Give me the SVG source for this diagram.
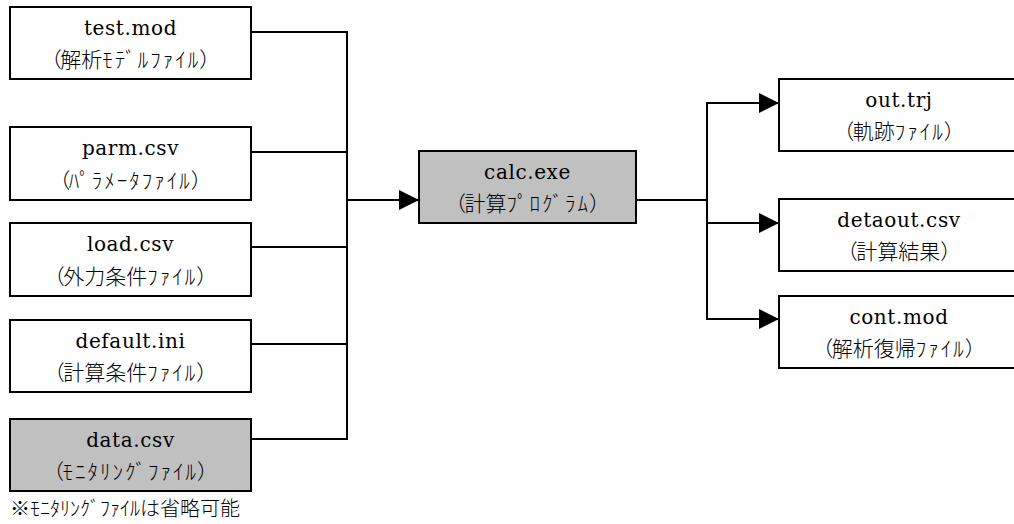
<svg xmlns="http://www.w3.org/2000/svg" width="1014" height="524" viewBox="0 0 1014 524">
<style>
.box{fill:#fff;stroke:#000;stroke-width:2}
.gray{fill:#c0c0c0}
.t1{font-family:"DejaVu Serif","Liberation Serif",serif;font-size:20px;letter-spacing:0.6px;text-anchor:middle;fill:#000}
.t2{font-family:"Noto Sans CJK JP","Noto Sans CJK SC",sans-serif;font-size:21px;font-weight:300;text-anchor:middle;fill:#000}
.k{letter-spacing:2px}
.o{letter-spacing:-1.5px}
.note{font-family:"Noto Sans CJK JP","Noto Sans CJK SC",sans-serif;font-size:20px;font-weight:300;fill:#000}
.line{fill:none;stroke:#000;stroke-width:2}
</style>
<defs>
<marker id="arr" markerWidth="20" markerHeight="20" refX="20" refY="10" orient="auto" markerUnits="userSpaceOnUse" viewBox="0 0 20 20">
<path d="M0,0 L20,10 L0,20 Z" fill="#000"/>
</marker>
</defs>
<g id="connectors">
<polyline class="line" points="251,32 347,32 347,439 251,439"/>
<line class="line" x1="251" y1="152" x2="347" y2="152"/>
<line class="line" x1="251" y1="247" x2="347" y2="247"/>
<line class="line" x1="251" y1="344" x2="347" y2="344"/>
<line class="line" x1="347" y1="200" x2="419" y2="200" marker-end="url(#arr)"/>
<line class="line" x1="636" y1="200" x2="707" y2="200"/>
<polyline class="line" points="779,103 707,103 707,319 779,319" marker-end="url(#arr)"/>
<line class="line" x1="707" y1="103" x2="779" y2="103" marker-end="url(#arr)"/>
<line class="line" x1="707" y1="223" x2="779" y2="223" marker-end="url(#arr)"/>
</g>
<g id="test_mod">
<rect class="box" x="10" y="7" width="241" height="72"/>
<text class="t1" x="130.5" y="35">test.mod</text>
<text class="t2" x="130.5" y="67"><tspan class="o">（</tspan>解析<tspan class="k">ﾓﾃﾞﾙﾌｧｲﾙ</tspan><tspan dx="-1">）</tspan></text>
</g>
<g id="parm_csv">
<rect class="box" x="10" y="127" width="241" height="73"/>
<text class="t1" x="130.5" y="155">parm.csv</text>
<text class="t2" x="130.5" y="188"><tspan class="o">（</tspan><tspan class="k">ﾊﾟﾗﾒｰﾀﾌｧｲﾙ</tspan><tspan dx="-1">）</tspan></text>
</g>
<g id="load_csv">
<rect class="box" x="10" y="223" width="241" height="73"/>
<text class="t1" x="130.5" y="251">load.csv</text>
<text class="t2" x="130.5" y="284"><tspan class="o">（</tspan>外力条件<tspan class="k">ﾌｧｲﾙ</tspan><tspan dx="-1">）</tspan></text>
</g>
<g id="default_ini">
<rect class="box" x="10" y="320" width="241" height="72"/>
<text class="t1" x="130.5" y="348">default.ini</text>
<text class="t2" x="130.5" y="380"><tspan class="o">（</tspan>計算条件<tspan class="k">ﾌｧｲﾙ</tspan><tspan dx="-1">）</tspan></text>
</g>
<g id="data_csv">
<rect class="box gray" x="10" y="419" width="241" height="72"/>
<text class="t1" x="130.5" y="447">data.csv</text>
<text class="t2" x="130.5" y="479"><tspan class="o">（</tspan><tspan class="k">ﾓﾆﾀﾘﾝｸﾞﾌｧｲﾙ</tspan><tspan dx="-1">）</tspan></text>
</g>
<g id="calc_exe">
<rect class="box gray" x="419" y="151" width="217" height="72"/>
<text class="t1" x="527.5" y="179">calc.exe</text>
<text class="t2" x="527.5" y="211"><tspan class="o">（</tspan>計算<tspan class="k">ﾌﾟﾛｸﾞﾗﾑ</tspan><tspan dx="-1">）</tspan></text>
</g>
<g id="out_trj">
<rect class="box" x="779" y="79" width="240" height="72"/>
<text class="t1" x="899" y="107">out.trj</text>
<text class="t2" x="899" y="139"><tspan class="o">（</tspan>軌跡<tspan class="k">ﾌｧｲﾙ</tspan><tspan dx="-1">）</tspan></text>
</g>
<g id="detaout_csv">
<rect class="box" x="779" y="199" width="240" height="72"/>
<text class="t1" x="899" y="227">detaout.csv</text>
<text class="t2" x="899" y="259"><tspan class="o">（</tspan>計算結果）</text>
</g>
<g id="cont_mod">
<rect class="box" x="779" y="296" width="240" height="72"/>
<text class="t1" x="899" y="324">cont.mod</text>
<text class="t2" x="899" y="356"><tspan class="o">（</tspan>解析復帰<tspan class="k">ﾌｧｲﾙ</tspan><tspan dx="-1">）</tspan></text>
</g>
<g id="footnote">
<text class="note" x="10" y="516">※ﾓﾆﾀﾘﾝｸﾞﾌｧｲﾙは省略可能</text>
</g>
</svg>
